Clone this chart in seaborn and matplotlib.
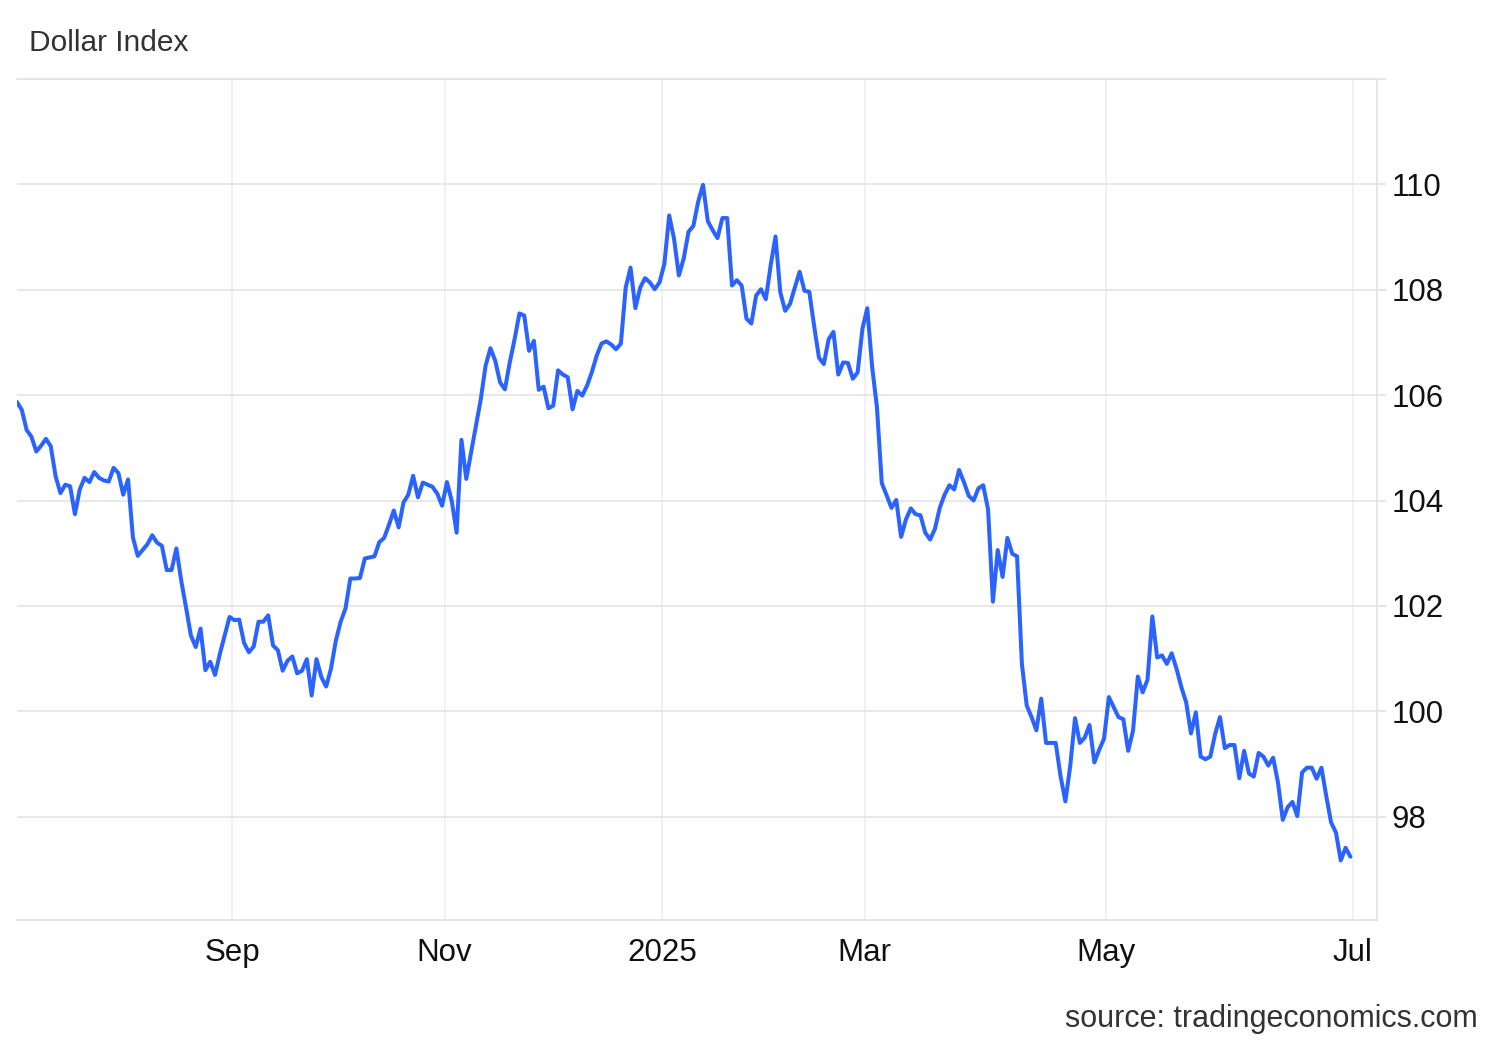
import numpy as np
import pandas as pd
import seaborn as sns
import matplotlib.pyplot as plt

# Dollar Index, daily readings taken off the chart, one list per two months
jul_aug = [105.87, 105.72, 105.34, 105.21, 104.93, 105.04, 105.17, 105.03, 104.46, 104.14,
           104.30, 104.27, 103.74, 104.21, 104.43, 104.35, 104.54, 104.43, 104.38, 104.36,
           104.62, 104.52, 104.11, 104.40, 103.30, 102.95, 103.06, 103.17, 103.34, 103.20,
           103.14, 102.68, 102.68, 103.09, 102.48, 101.97, 101.44, 101.22, 101.57, 100.78,
           100.94, 100.69, 101.09, 101.44, 101.79]
sep_oct = [101.73, 101.74, 101.30, 101.12, 101.23, 101.70, 101.70, 101.82, 101.25, 101.16,
           100.77, 100.96, 101.04, 100.72, 100.77, 100.99, 100.30, 100.99, 100.65, 100.47,
           100.81, 101.34, 101.70, 101.95, 102.52, 102.52, 102.53, 102.90, 102.92, 102.94,
           103.21, 103.29, 103.54, 103.81, 103.49, 103.96, 104.11, 104.47, 104.06, 104.34,
           104.30, 104.26, 104.13, 103.90]
nov_dec = [104.35, 103.99, 103.39, 105.15, 104.41, 104.91, 105.42, 105.92, 106.56, 106.89,
           106.65, 106.24, 106.11, 106.62, 107.06, 107.55, 107.51, 106.84, 107.03, 106.10,
           106.16, 105.75, 105.80, 106.47, 106.39, 106.34, 105.73, 106.08, 105.99, 106.18,
           106.44, 106.75, 106.98, 107.02, 106.96, 106.87, 106.98, 108.04, 108.42, 107.65,
           108.04, 108.22, 108.14, 108.01, 108.14]
jan_feb = [108.49, 109.41, 108.97, 108.27, 108.59, 109.10, 109.21, 109.67, 109.99, 109.30,
           109.13, 108.98, 109.36, 109.36, 108.08, 108.18, 108.08, 107.45, 107.36, 107.89,
           108.01, 107.82, 108.46, 109.01, 107.95, 107.60, 107.73, 108.04, 108.34, 107.98,
           107.96, 107.31, 106.71, 106.59, 107.06, 107.20, 106.39, 106.62, 106.61, 106.31,
           106.43, 107.26]
mar_apr = [107.65, 106.54, 105.77, 104.33, 104.10, 103.86, 104.01, 103.31, 103.64, 103.85,
           103.74, 103.72, 103.39, 103.26, 103.46, 103.86, 104.11, 104.29, 104.21, 104.58,
           104.35, 104.09, 104.00, 104.23, 104.29, 103.83, 102.08, 103.06, 102.55, 103.29,
           102.99, 102.94, 100.90, 100.11, 99.89, 99.64, 100.24, 99.40, 99.40, 99.40,
           98.77, 98.29, 98.96, 99.87, 99.40, 99.50, 99.74, 99.03, 99.27, 99.48]
may_jun = [100.27, 100.08, 99.89, 99.85, 99.25, 99.63, 100.66, 100.36, 100.60, 101.80,
           101.02, 101.06, 100.90, 101.10, 100.81, 100.46, 100.17, 99.58, 99.98, 99.14,
           99.09, 99.14, 99.57, 99.89, 99.30, 99.36, 99.36, 98.73, 99.25, 98.82,
           98.76, 99.21, 99.14, 98.97, 99.12, 98.65, 97.94, 98.18, 98.28, 98.01,
           98.84, 98.93, 98.93, 98.72, 98.93, 98.39, 97.89, 97.70, 97.17, 97.41, 97.24]

month_labels = ["Sep", "Nov", "2025", "Mar", "May", "Jul"]
y_ticks = [98, 100, 102, 104, 106, 108, 110, 112]

segments = [jul_aug, sep_oct, nov_dec, jan_feb, mar_apr, may_jun]
values = sum(segments, [])
df = pd.DataFrame({"obs": np.arange(len(values)), "dxy": values})
# month label goes on the boundary where the next two-month block starts
month_pos = np.cumsum([len(s) for s in segments]) - 0.5

sns.set_theme(style="white")
plt.rcParams["font.family"] = ["Liberation Sans", "DejaVu Sans"]

fig = plt.figure(figsize=(15, 10.4), dpi=100)
ax = fig.add_axes([0.0113, 0.1154, 0.9067, 0.8087])

sns.lineplot(data=df, x="obs", y="dxy", color="#2b63ff", linewidth=2.9, ax=ax)

ax.set_xlim(0, 281.5)
ax.set_ylim(96.04, 112.0)
ax.set_xlabel("")
ax.set_ylabel("")

ax.yaxis.tick_right()
ax.set_yticks(y_ticks)
ax.set_yticklabels([str(t) for t in y_ticks[:-1]] + [""])
ax.set_xticks(month_pos)
ax.set_xticklabels(month_labels)

ax.grid(axis="y", color="#e6e6e6", linewidth=1.3)
ax.grid(axis="x", color="#edf1f6", linewidth=1.3)
ax.set_axisbelow(True)

ax.spines["left"].set_visible(False)
for side in ["top", "bottom", "right"]:
    ax.spines[side].set_color("#e3e3e3")
    ax.spines[side].set_linewidth(1.3)

ax.tick_params(axis="y", length=6.5, width=1.3, color="#e3e3e3", pad=4,
               labelsize=22.5, labelcolor="#111111")
ax.tick_params(axis="x", length=0, pad=13, labelsize=22.5, labelcolor="#111111")

fig.text(29 / 1500, 1 - 50.7 / 1040, "Dollar Index", ha="left", va="baseline",
         fontsize=21.5, color="#333333")
fig.text(1478 / 1500, 1 - 1027 / 1040, "source: tradingeconomics.com", ha="right",
         va="baseline", fontsize=22, color="#333333")

fig.savefig("out.png", dpi=100)
